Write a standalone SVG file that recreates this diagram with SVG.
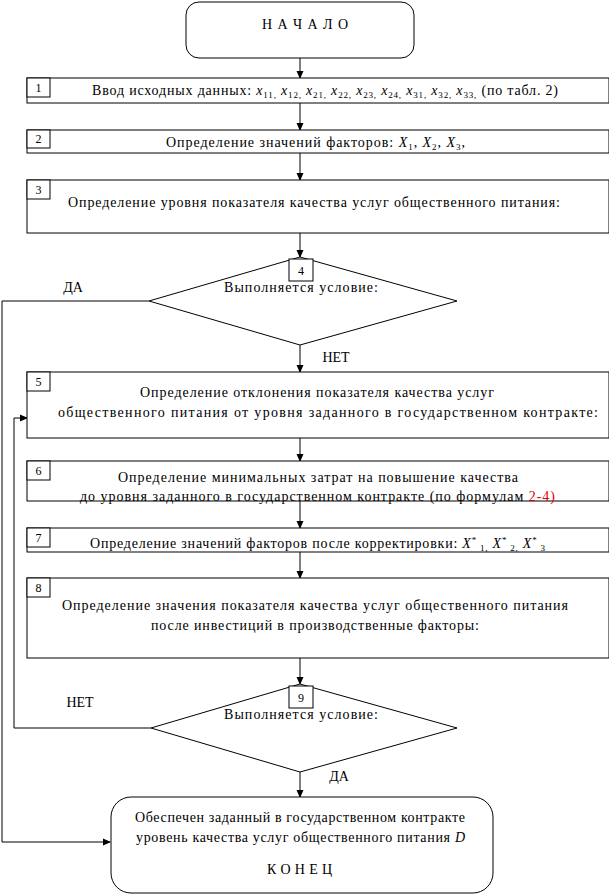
<svg xmlns="http://www.w3.org/2000/svg" width="609" height="895" viewBox="0 0 609 895" font-family="'Liberation Serif', 'DejaVu Serif', serif">
<defs>
<marker id="ah" markerWidth="8" markerHeight="8" refX="7" refY="4" orient="auto" markerUnits="userSpaceOnUse">
<path d="M0,0.5 L8,4 L0,7.5 Z" fill="#000"/>
</marker>
</defs>
<style>
.s{fill:#fff;stroke:#000;stroke-width:1}
.c{fill:none;stroke:#000;stroke-width:1}
text{font-family:'Liberation Serif','DejaVu Serif',serif;font-size:14px;fill:#000}
.m{text-anchor:middle}
.n{font-size:12px;text-anchor:middle}
.i{font-style:italic}
.sb{font-size:9px}
.r{fill:#e00000}
</style>
<rect width="609" height="895" fill="#fff"/>
<g id="connectors">
<line class="c" x1="300" y1="58" x2="300" y2="78" marker-end="url(#ah)"/>
<line class="c" x1="300" y1="103" x2="300" y2="130" marker-end="url(#ah)"/>
<line class="c" x1="300" y1="153" x2="300" y2="180" marker-end="url(#ah)"/>
<line class="c" x1="300" y1="233" x2="300" y2="257" marker-end="url(#ah)"/>
<polyline class="c" points="149,301 2,301 2,842 110,842" marker-end="url(#ah)"/>
<line class="c" x1="300" y1="345" x2="300" y2="372" marker-end="url(#ah)"/>
<line class="c" x1="300" y1="438" x2="300" y2="461" marker-end="url(#ah)"/>
<line class="c" x1="300" y1="501" x2="300" y2="528" marker-end="url(#ah)"/>
<line class="c" x1="300" y1="552" x2="300" y2="578" marker-end="url(#ah)"/>
<line class="c" x1="300" y1="658" x2="300" y2="684" marker-end="url(#ah)"/>
<polyline class="c" points="151,728 14,728 14,418 27,418" marker-end="url(#ah)"/>
<line class="c" x1="300" y1="772" x2="300" y2="797" marker-end="url(#ah)"/>
<text x="73" y="292" class="m">ДА</text>
<text x="336" y="362" class="m">НЕТ</text>
<text x="80" y="707" class="m">НЕТ</text>
<text x="339" y="781" class="m">ДА</text>
</g>
<g id="start">
<rect class="s" x="186" y="2" width="228" height="56" rx="13"/>
<text x="305" y="29" class="m" textLength="86" lengthAdjust="spacing">Н А Ч А Л О</text>
</g>
<g id="b1">
<rect class="s" x="27" y="78" width="582" height="25"/>
<rect class="s" x="27" y="78" width="23" height="19"/>
<text x="38.5" y="92" class="n">1</text>
<text x="92" y="95" textLength="466" lengthAdjust="spacing">Ввод исходных данных: <tspan class="i">x</tspan><tspan class="sb" dy="3">11,</tspan><tspan dy="-3"> </tspan><tspan class="i">x</tspan><tspan class="sb" dy="3">12,</tspan><tspan dy="-3"> </tspan><tspan class="i">x</tspan><tspan class="sb" dy="3">21,</tspan><tspan dy="-3"> </tspan><tspan class="i">x</tspan><tspan class="sb" dy="3">22,</tspan><tspan dy="-3"> </tspan><tspan class="i">x</tspan><tspan class="sb" dy="3">23,</tspan><tspan dy="-3"> </tspan><tspan class="i">x</tspan><tspan class="sb" dy="3">24,</tspan><tspan dy="-3"> </tspan><tspan class="i">x</tspan><tspan class="sb" dy="3">31,</tspan><tspan dy="-3"> </tspan><tspan class="i">x</tspan><tspan class="sb" dy="3">32,</tspan><tspan dy="-3"> </tspan><tspan class="i">x</tspan><tspan class="sb" dy="3">33,</tspan><tspan dy="-3"> (по табл. 2)</tspan></text>
</g>
<g id="b2">
<rect class="s" x="27" y="130" width="582" height="23"/>
<rect class="s" x="27" y="130" width="23" height="18"/>
<text x="38.5" y="143" class="n">2</text>
<text x="166" y="147" textLength="299" lengthAdjust="spacing">Определение значений факторов: <tspan class="i">X</tspan><tspan class="sb" dy="3">1</tspan><tspan dy="-3">, </tspan><tspan class="i">X</tspan><tspan class="sb" dy="3">2</tspan><tspan dy="-3">, </tspan><tspan class="i">X</tspan><tspan class="sb" dy="3">3</tspan><tspan dy="-3">,</tspan></text>
</g>
<g id="b3">
<rect class="s" x="27" y="180" width="582" height="53"/>
<rect class="s" x="27" y="180" width="23" height="19"/>
<text x="38.5" y="194" class="n">3</text>
<text x="68" y="207" textLength="492" lengthAdjust="spacing">Определение уровня показателя качества услуг общественного питания:</text>
</g>
<g id="d4">
<polygon class="s" points="300,257 457,301 300,345 149,301"/>
<rect class="s" x="289" y="259" width="24" height="22"/>
<text x="301" y="275" class="n">4</text>
<text x="224" y="292" textLength="154" lengthAdjust="spacing">Выполняется условие:</text>
</g>
<g id="b5">
<rect class="s" x="27" y="372" width="582" height="66"/>
<rect class="s" x="27" y="372" width="23" height="19"/>
<text x="38.5" y="386" class="n">5</text>
<text x="140" y="397" textLength="354" lengthAdjust="spacing">Определение отклонения показателя качества услуг</text>
<text x="58" y="417" textLength="540" lengthAdjust="spacing">общественного питания от уровня заданного в государственном контракте:</text>
</g>
<g id="b6">
<rect class="s" x="27" y="461" width="582" height="40"/>
<rect class="s" x="27" y="461" width="23" height="19"/>
<text x="38.5" y="475" class="n">6</text>
<text x="118" y="482" textLength="400" lengthAdjust="spacing">Определение минимальных затрат на повышение качества</text>
<text x="80" y="501" textLength="475" lengthAdjust="spacing">до уровня заданного в государственном контракте (по формулам <tspan class="r">2-4)</tspan></text>
</g>
<g id="b7">
<rect class="s" x="27" y="528" width="582" height="24"/>
<rect class="s" x="27" y="528" width="23" height="19"/>
<text x="38.5" y="542" class="n">7</text>
<text x="90" y="548" textLength="455" lengthAdjust="spacing">Определение значений факторов после корректировки: <tspan class="i">X</tspan><tspan class="sb" dy="-5">*</tspan><tspan class="sb" dy="8"> 1,</tspan><tspan dy="-3"> </tspan><tspan class="i">X</tspan><tspan class="sb" dy="-5">*</tspan><tspan class="sb" dy="8"> 2,</tspan><tspan dy="-3"> </tspan><tspan class="i">X</tspan><tspan class="sb" dy="-5">*</tspan><tspan class="sb" dy="8"> 3</tspan></text>
</g>
<g id="b8">
<rect class="s" x="27" y="578" width="582" height="80"/>
<rect class="s" x="27" y="578" width="23" height="19"/>
<text x="38.5" y="592" class="n">8</text>
<text x="62" y="610" textLength="506" lengthAdjust="spacing">Определение значения показателя качества услуг общественного питания</text>
<text x="151" y="630" textLength="328" lengthAdjust="spacing">после инвестиций в производственные факторы:</text>
</g>
<g id="d9">
<polygon class="s" points="300,684 457,728 300,772 151,728"/>
<rect class="s" x="289" y="686" width="24" height="22"/>
<text x="301" y="702" class="n">9</text>
<text x="224" y="719" textLength="154" lengthAdjust="spacing">Выполняется условие:</text>
</g>
<g id="end">
<rect class="s" x="111" y="797" width="382" height="96" rx="20"/>
<text x="135" y="822" textLength="330" lengthAdjust="spacing">Обеспечен заданный в государственном контракте</text>
<text x="136" y="842" textLength="329" lengthAdjust="spacing">уровень качества услуг общественного питания <tspan class="i">D</tspan></text>
<text x="267" y="874" textLength="65" lengthAdjust="spacing">К О Н Е Ц</text>
</g>
</svg>
